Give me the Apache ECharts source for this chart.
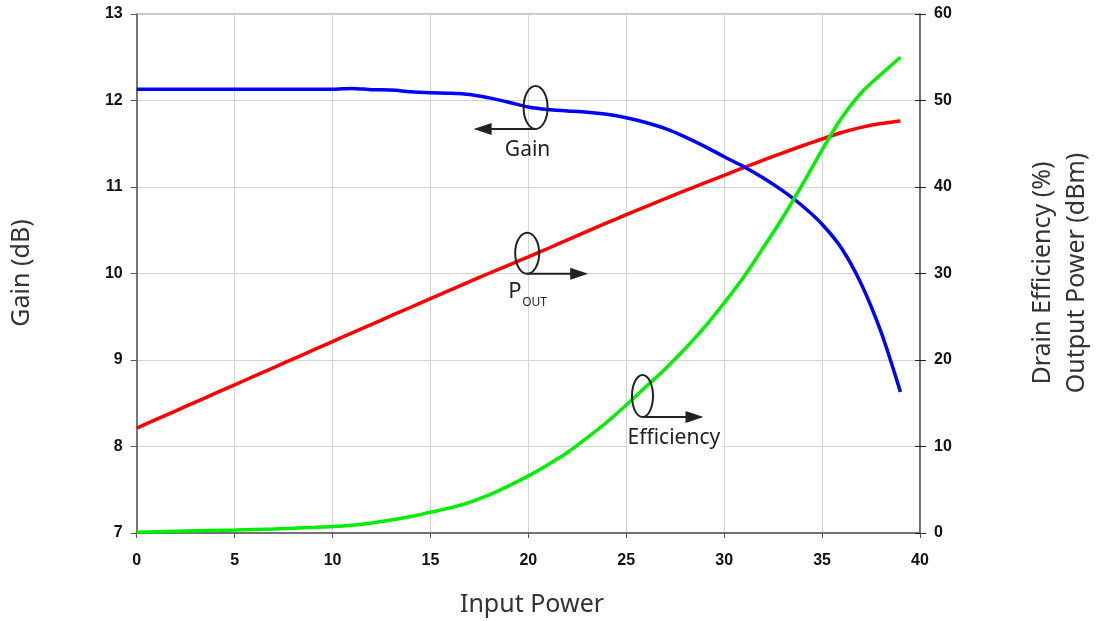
<!DOCTYPE html>
<html>
<head>
<meta charset="utf-8">
<script src="https://cdn.jsdelivr.net/npm/echarts@6/dist/echarts.min.js"></script>
<style>
html,body{margin:0;padding:0;background:#fff;}
#chart{width:1096px;height:621px;}
</style>
</head>
<body>
<div id="chart"></div>
<script>
// ---- data ----
const inputPower = [0,1,2,3,4,5,6,7,8,9,10,11,12,13,14,15,16,17,18,19,20,21,22,23,24,25,26,27,28,29,30,31,32,33,34,35,36,37,38,39];
const gainDb = [12.13,12.13,12.13,12.13,12.13,12.13,12.13,12.13,12.13,12.13,12.13,12.14,12.125,12.12,12.10,12.09,12.085,12.07,12.03,11.98,11.925,11.895,11.88,11.865,11.84,11.80,11.745,11.675,11.58,11.47,11.35,11.235,11.105,10.955,10.78,10.57,10.29,9.88,9.33,8.63];
const poutDbm = [12.13,13.13,14.13,15.13,16.13,17.13,18.13,19.13,20.13,21.13,22.13,23.14,24.12,25.12,26.10,27.09,28.08,29.07,30.03,30.98,31.92,32.89,33.88,34.87,35.84,36.80,37.74,38.67,39.57,40.47,41.35,42.24,43.11,43.95,44.77,45.55,46.30,46.89,47.33,47.63];
const drainEff = [0.1,0.15,0.2,0.25,0.3,0.35,0.41,0.47,0.55,0.64,0.74,0.9,1.15,1.5,1.9,2.4,2.9,3.55,4.4,5.45,6.6,7.9,9.3,11.0,12.8,14.8,16.9,19.0,21.3,23.8,26.6,29.6,33.0,36.5,40.3,44.3,48.0,50.9,53.0,55.0];
const xTickLabels = ['0','5','10','15','20','25','30','35','40'];
const gainTickLabels = ['7','8','9','10','11','12','13'];
const rightTickLabels = ['0','10','20','30','40','50','60'];
// annotation anchors (data coords): [inputPower, value, yAxisIndex, direction]
const annGain = [20.37, 11.92, 0, -1];
const annPout = [19.94, 32.34, 1, 1];
const annEff = [25.83, 15.84, 1, 1];

const pair = (ys) => inputPower.map((x, i) => [x, ys[i]]);

const chart = echarts.init(document.getElementById('chart'), null, {renderer: 'canvas'});
const tickFont = {fontFamily: 'Liberation Sans, Arial, sans-serif', fontWeight: 'bold', fontSize: 16, color: '#111'};
const titleFont = 'Noto Sans, Open Sans, sans-serif';

const baseRight = {
  type: 'value', position: 'right', min: 0, max: 60, interval: 10
};

chart.setOption({
  animation: false,
  grid: {left: 136.7, right: 176, top: 14, bottom: 88, show: true, borderColor: '#8a8a8a', borderWidth: 1},
  xAxis: {
    type: 'value', min: 0, max: 40, interval: 5,
    axisLine: {show: true, lineStyle: {color: '#555', width: 1.5}},
    axisTick: {show: true, length: 5, lineStyle: {color: '#555'}},
    axisLabel: Object.assign({margin: 20, formatter: (v) => xTickLabels[Math.round(v / 5)]}, tickFont),
    splitLine: {show: true, lineStyle: {color: '#d3d3d3', width: 1}}
  },
  yAxis: [
    {
      type: 'value', position: 'left', min: 7, max: 13, interval: 1,
      axisLine: {show: true, lineStyle: {color: '#555', width: 1.5}},
      axisTick: {show: true, length: 6, lineStyle: {color: '#555'}},
      axisLabel: Object.assign({margin: 14, formatter: (v) => gainTickLabels[Math.round(v - 7)]}, tickFont),
      splitLine: {show: true, lineStyle: {color: '#d3d3d3', width: 1}}
    },
    Object.assign({}, baseRight, {
      axisLine: {show: true, lineStyle: {color: '#555', width: 1.5}},
      axisTick: {show: true, length: 6, lineStyle: {color: '#222'}},
      axisLabel: Object.assign({margin: 14, formatter: (v) => rightTickLabels[Math.round(v / 10)]}, tickFont),
      splitLine: {show: false}
    }),
    Object.assign({}, baseRight, {
      axisLine: {show: false},
      axisTick: {show: true, inside: true, length: 5, lineStyle: {color: '#222'}},
      axisLabel: {show: false},
      splitLine: {show: false}
    })
  ],
  series: [
    {name: 'Gain', type: 'line', yAxisIndex: 0, data: pair(gainDb), smooth: 0.3, showSymbol: false,
      lineStyle: {color: '#0000ff', width: 3.5}, z: 3},
    {name: 'Pout', type: 'line', yAxisIndex: 1, data: pair(poutDbm), smooth: 0.3, showSymbol: false,
      lineStyle: {color: '#ff0000', width: 3.5}, z: 2},
    {name: 'Efficiency', type: 'line', yAxisIndex: 1, data: pair(drainEff), smooth: 0.3, showSymbol: false,
      lineStyle: {color: '#00ee00', width: 3.5}, z: 4}
  ]
});

function ellipseArrow(ann, rx, ry, len) {
  const c = chart.convertToPixel({xAxisIndex: 0, yAxisIndex: ann[2]}, [ann[0], ann[1]]);
  const dir = ann[3];
  const yb = c[1] + ry;
  const tipX = c[0] + dir * len;
  return {c, els: [
    {type: 'ellipse', shape: {cx: c[0], cy: c[1], rx: rx, ry: ry}, style: {fill: null, stroke: '#222', lineWidth: 2}, z: 10},
    {type: 'line', shape: {x1: c[0], y1: yb, x2: tipX - dir * 14, y2: yb}, style: {stroke: '#222', lineWidth: 2}, z: 10},
    {type: 'polygon', shape: {points: [[tipX, yb], [tipX - dir * 18, yb - 6], [tipX - dir * 18, yb + 6]]}, style: {fill: '#222'}, z: 10}
  ]};
}

const g = ellipseArrow(annGain, 12, 21.5, 62);
const p = ellipseArrow(annPout, 12, 20.5, 61);
const e = ellipseArrow(annEff, 10.5, 21, 61);

const txt = (x, y, text, size, align, extra) => ({
  type: 'text', x: x, y: y, z: 11,
  style: Object.assign({text: text, font: size + 'px ' + titleFont, fill: '#222', textAlign: align, textVerticalAlign: 'middle'}, extra || {})
});

const graphics = [].concat(g.els, p.els, e.els, [
  txt(g.c[0] - 8, g.c[1] + 43, 'Gain', 21, 'center'),
  txt(p.c[0] - 19, p.c[1] + 38, 'P', 22, 'left'),
  txt(p.c[0] - 5, p.c[1] + 49, 'OUT', 12, 'left'),
  txt(e.c[0] - 15, e.c[1] + 42, 'Efficiency', 21, 'left', {backgroundColor: '#fff', padding: [0, 2, 0, 0]}),
  {type: 'text', x: 22, y: 273, rotation: Math.PI / 2, z: 11,
    style: {text: 'Gain (dB)', font: '25px ' + titleFont, fill: '#333', textAlign: 'center', textVerticalAlign: 'middle'}},
  {type: 'text', x: 532, y: 605, z: 11,
    style: {text: 'Input Power', font: '25px ' + titleFont, fill: '#333', textAlign: 'center', textVerticalAlign: 'middle'}},
  {type: 'text', x: 1043, y: 273, rotation: Math.PI / 2, z: 11,
    style: {text: 'Drain Efficiency (%)', font: '25px ' + titleFont, fill: '#333', textAlign: 'center', textVerticalAlign: 'middle'}},
  {type: 'text', x: 1077, y: 273, rotation: Math.PI / 2, z: 11,
    style: {text: 'Output Power (dBm)', font: '25px ' + titleFont, fill: '#333', textAlign: 'center', textVerticalAlign: 'middle'}}
]);

chart.setOption({graphic: graphics});
</script>
</body>
</html>
